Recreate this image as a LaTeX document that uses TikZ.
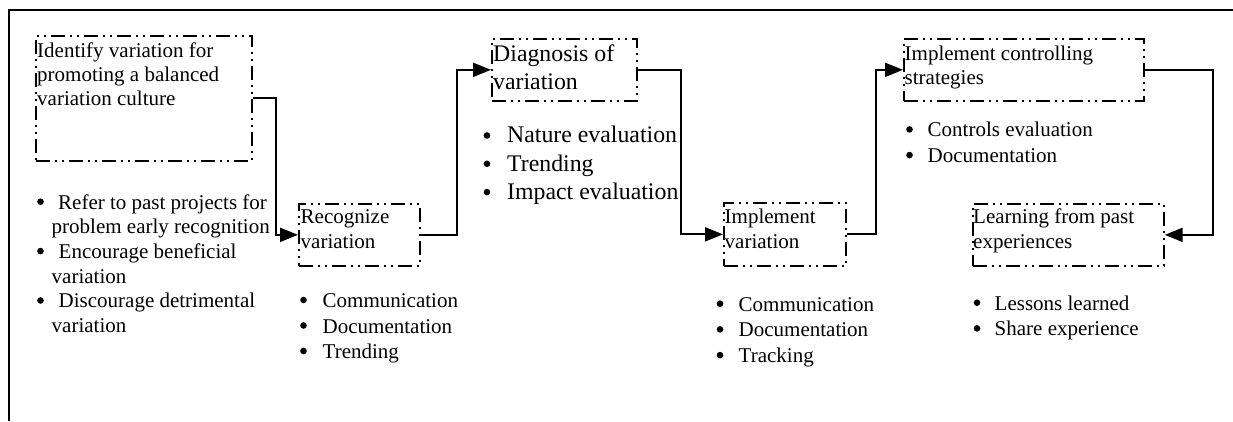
\documentclass[tikz,border=0pt]{standalone}
\usepackage{fontspec}
\setmainfont{Liberation Serif}
\usetikzlibrary{arrows.meta}

\begin{document}
\begin{tikzpicture}[x=1pt, y=-1pt,
  stagebox/.style={draw, line width=1.7pt, inner sep=0pt, anchor=north west,
    dash pattern=on 14pt off 5pt on 2pt off 5pt on 2pt off 5pt},
  txt/.style={inner sep=0pt, anchor=north west, align=left},
  norm/.style={font=\fontsize{21}{#1}\selectfont},
  large/.style={font=\fontsize{23.8}{#1}\selectfont},
  dot/.style={circle, fill, inner sep=0pt, minimum size=6.6pt},
  flow/.style={line width=1.9pt, -{Triangle[length=18pt,width=14pt]}}
]
\useasboundingbox (0,0) rectangle (1233,421);

% frame (top and left edges)
\draw[line width=2.4pt] (9,421) -- (9,10) -- (1233,10);

% stage boxes
\node[stagebox, minimum width=216pt, minimum height=125pt] (b1) at (35,35) {};
\node[stagebox, minimum width=121pt, minimum height=62pt]  (b2) at (298,203) {};
\node[stagebox, minimum width=145pt, minimum height=62pt]  (b3) at (491,38) {};
\node[stagebox, minimum width=122pt, minimum height=63pt]  (b4) at (723,202) {};
\node[stagebox, minimum width=240pt, minimum height=62pt]  (b5) at (903,38) {};
\node[stagebox, minimum width=191pt, minimum height=62pt]  (b6) at (972,203) {};

% stage titles
\node[txt, norm=24.4] (t1) at (37,39.9) {\strut Identify variation for\\promoting a balanced\\variation culture};
\node[txt, norm=25] (t2) at (300.5,205.8) {\strut Recognize\\variation};
\node[txt, large=28.3] (t3) at (493,41.2) {\strut Diagnosis of\\variation};
\node[txt, norm=25] (t4) at (724.5,205.8) {\strut Implement\\variation};
\node[txt, norm=24] (t5) at (904.5,43.2) {\strut Implement controlling\\strategies};
\node[txt, norm=25] (t6) at (973,205.8) {\strut Learning from past\\experiences};

% bullet list texts
\node[txt, norm=24.7] (l1) at (51.5,191.7) {\strut\hspace*{6.5pt}Refer to past projects for\\
  problem early recognition\\
  \hspace*{7pt}Encourage beneficial\\
  variation\\
  \hspace*{7pt}Discourage detrimental\\
  variation};
\node[txt, norm=25.5] (l2) at (322.5,289.5) {\strut Communication\\Documentation\\Trending};
\node[txt, large=28.3] (l3) at (507,122.9) {\strut Nature evaluation\\Trending\\Impact evaluation};
\node[txt, norm=25.7] (l4) at (738.5,293) {\strut Communication\\Documentation\\Tracking};
\node[txt, norm=25.7] (l5) at (927.5,118.7) {\strut Controls evaluation\\Documentation};
\node[txt, norm=25.7] (l6) at (994.5,292) {\strut Lessons learned\\Share experience};

% bullet marks
\foreach \y [count=\i] in {201.7,251.1,300.5} \node[dot] (d1\i) at (40.5,\y) {};
\foreach \y [count=\i] in {300,325.5,351}     \node[dot] (d2\i) at (303.5,\y) {};
\foreach \y [count=\i] in {135.5,163.8,192.1} \node[dot] (d3\i) at (487,\y) {};
\foreach \y [count=\i] in {303.7,329.4,355.1} \node[dot] (d4\i) at (720,\y) {};
\foreach \y [count=\i] in {129.4,155.1}       \node[dot] (d5\i) at (909.5,\y) {};
\foreach \y [count=\i] in {302.7,328.4}       \node[dot] (d6\i) at (977,\y) {};

% connectors between stages
\draw[flow] (b1.east) -- ++(23.5,0) |- (b2.west);
\draw[flow] (b2.east) -- ++(36,0) |- (b3.west);
\draw[flow] (b3.east) -- ++(43,0) |- (b4.west);
\draw[flow] (b4.east) -- ++(29,0) |- (b5.west);
\draw[flow] (b5.east) -- ++(68,0) |- (b6.east);
\end{tikzpicture}
\end{document}
